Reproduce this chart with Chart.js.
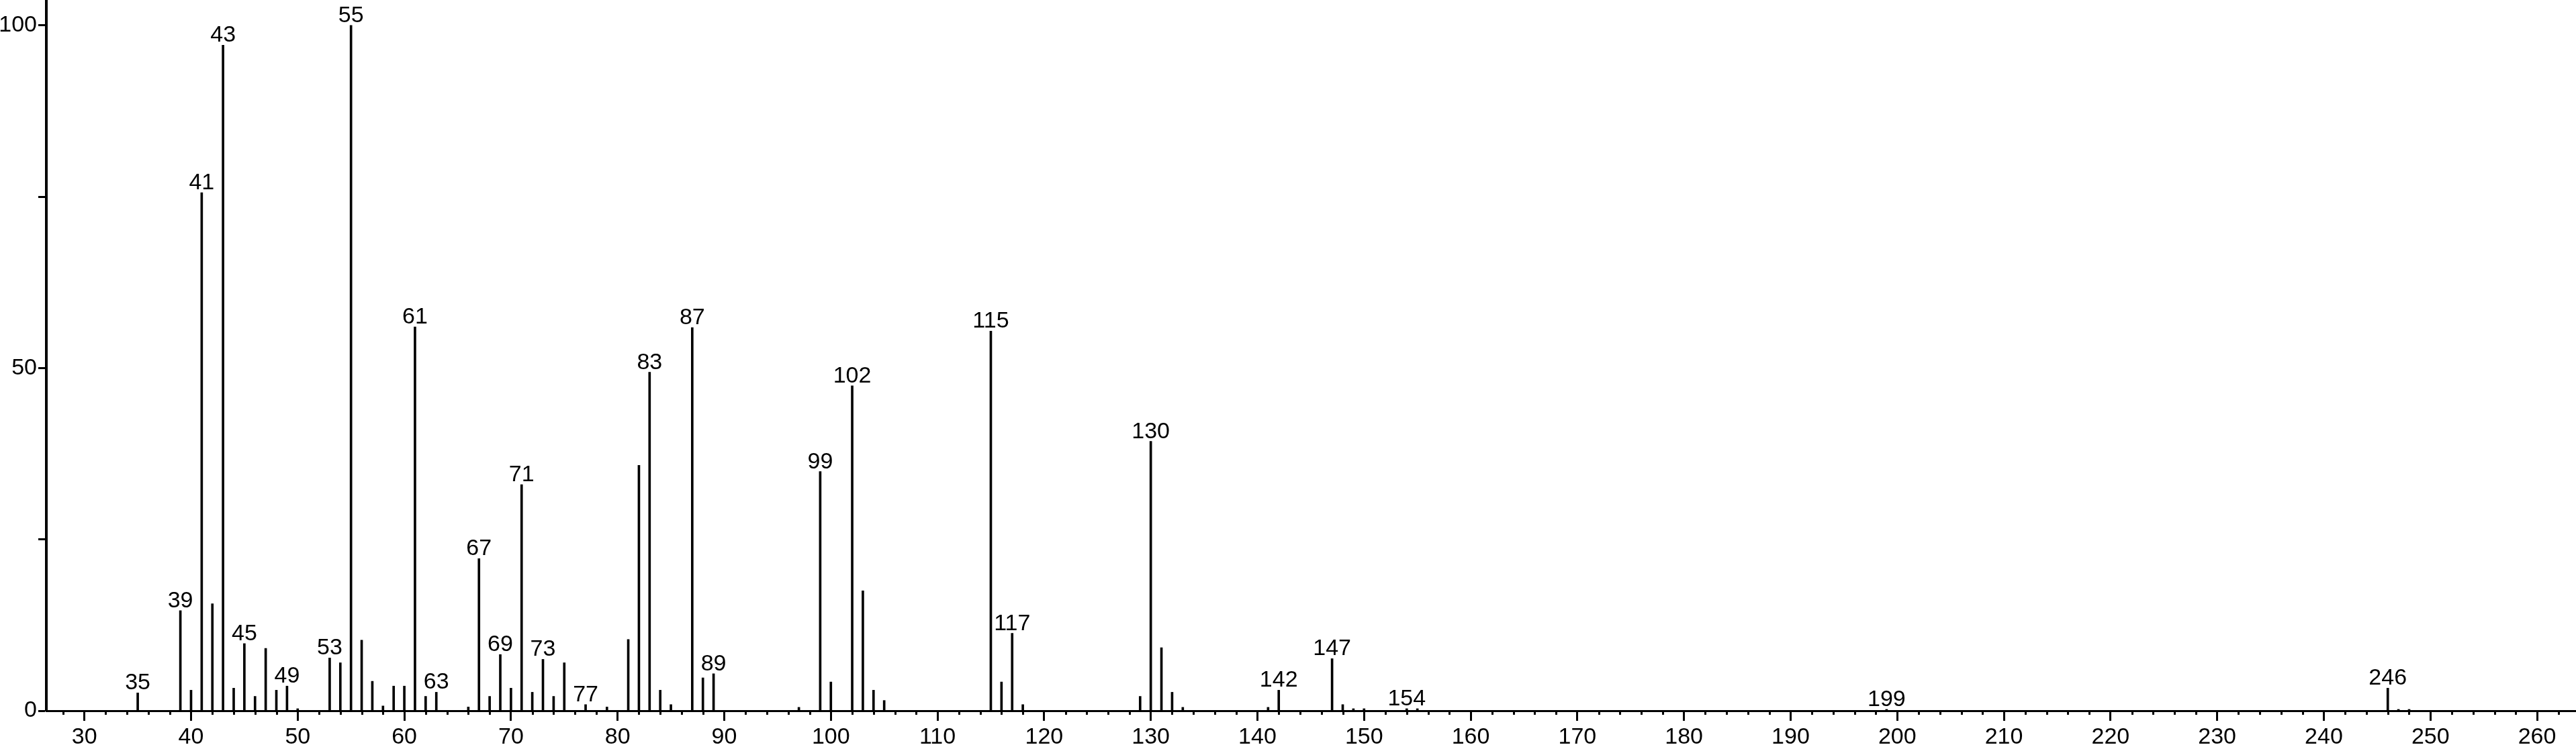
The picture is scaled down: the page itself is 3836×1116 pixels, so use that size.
<!DOCTYPE html>
<html>
<head>
<meta charset="utf-8">
<script src="https://cdn.jsdelivr.net/npm/chart.js@4"></script>
<style>
  body { margin: 0; background: #fff; }
  canvas { display: block; }
</style>
</head>
<body>
<canvas id="spec" width="3836" height="1116"></canvas>
<script>
// m/z values and relative intensities (%)
const masses = [35, 39, 40, 41, 42, 43, 44, 45, 46, 47, 48, 49, 50, 53, 54, 55, 56, 57, 58, 59, 60,
  61, 62, 63, 66, 67, 68, 69, 70, 71, 72, 73, 74, 75, 77, 79, 81, 82, 83, 84, 85, 87, 88, 89,
  97, 99, 100, 102, 103, 104, 105, 115, 116, 117, 118, 129, 130, 131, 132, 133, 141, 142,
  147, 148, 149, 150, 154, 155, 199, 246, 247, 248];
const intensities = [2.6, 14.6, 3.0, 75.6, 15.6, 97.1, 3.3, 9.8, 2.1, 9.1, 3.0, 3.6, 0.3, 7.7, 7.0, 100, 10.3, 4.3, 0.7, 3.6, 3.6,
  56.0, 2.1, 2.7, 0.55, 22.2, 2.1, 8.2, 3.3, 33.0, 2.7, 7.5, 2.1, 7.0, 0.9, 0.55, 10.4, 35.8, 49.4, 3.0, 0.9, 55.9, 4.8, 5.4,
  0.5, 34.9, 4.2, 47.4, 17.5, 3.0, 1.5, 55.4, 4.2, 11.3, 0.9, 2.1, 39.3, 9.2, 2.7, 0.5, 0.5, 3.0,
  7.6, 0.9, 0.3, 0.3, 0.3, 0.3, 0.2, 3.3, 0.2, 0.2];
// peaks that carry their m/z as a label
const labeledMasses = [35, 39, 41, 43, 45, 49, 53, 55, 61, 63, 67, 69, 71, 73, 77, 83, 87, 89,
  99, 102, 115, 117, 130, 142, 147, 154, 199, 246];
const yTickLabels = [0, 50, 100];

const FONT = { family: '"Liberation Sans", Arial, Helvetica, sans-serif', size: 34 };

const points = masses.map((m, i) => ({ x: m, y: intensities[i] }));

const peakLabels = {
  id: 'peakLabels',
  afterDatasetsDraw(chart) {
    const { ctx, scales: { x, y } } = chart;
    ctx.save();
    ctx.font = FONT.size + 'px ' + FONT.family;
    ctx.fillStyle = '#000';
    ctx.textAlign = 'center';
    ctx.textBaseline = 'alphabetic';
    labeledMasses.forEach(m => {
      const v = intensities[masses.indexOf(m)];
      ctx.fillText(String(m), x.getPixelForValue(m), y.getPixelForValue(v) - 5);
    });
    ctx.restore();
  }
};

// short minor ticks every 2 units on the x axis
const minorTicks = {
  id: 'minorTicks',
  afterDraw(chart) {
    const { ctx, scales: { x } } = chart;
    ctx.save();
    ctx.strokeStyle = '#000';
    ctx.lineWidth = 3;
    x.ticks.forEach(t => {
      if (t.value % 10 !== 0) {
        const px = Math.round(x.getPixelForValue(t.value)) + 0.5;
        ctx.beginPath();
        ctx.moveTo(px, x.top);
        ctx.lineTo(px, x.top + 6);
        ctx.stroke();
      }
    });
    ctx.restore();
  }
};

new Chart(document.getElementById('spec').getContext('2d'), {
  type: 'bar',
  data: {
    datasets: [{
      data: points,
      backgroundColor: '#000',
      borderWidth: 0,
      barThickness: 3
    }]
  },
  options: {
    responsive: false,
    animation: false,
    devicePixelRatio: 1,
    layout: { padding: 0 },
    plugins: { legend: { display: false }, tooltip: { enabled: false } },
    scales: {
      x: {
        type: 'linear',
        offset: false,
        min: 26.43,
        max: 263.65,
        afterFit(s) { s.height = 57; s.paddingLeft = 0; s.paddingRight = 0; },
        border: { display: true, color: '#000', width: 3 },
        grid: {
          offset: false,
          drawOnChartArea: false,
          tickLength: 15,
          tickWidth: 3,
          tickColor: c => (c.tick && c.tick.value % 10 === 0) ? '#000' : 'rgba(0,0,0,0)'
        },
        ticks: {
          stepSize: 2,
          includeBounds: false,
          autoSkip: false,
          maxRotation: 0,
          padding: 4,
          color: '#000',
          font: FONT,
          callback: v => (v % 10 === 0 ? String(v) : '')
        }
      },
      y: {
        type: 'linear',
        min: 0,
        max: 103.7,
        afterFit(s) { s.width = 69; s.paddingTop = 0; s.paddingBottom = 0; },
        border: { display: true, color: '#000', width: 4 },
        grid: { drawOnChartArea: false, tickLength: 12, tickWidth: 3, tickColor: '#000' },
        ticks: {
          stepSize: 25,
          includeBounds: false,
          padding: 2,
          color: '#000',
          font: FONT,
          callback: v => (yTickLabels.includes(v) ? String(v) : '')
        }
      }
    }
  },
  plugins: [peakLabels, minorTicks]
});
</script>
</body>
</html>
